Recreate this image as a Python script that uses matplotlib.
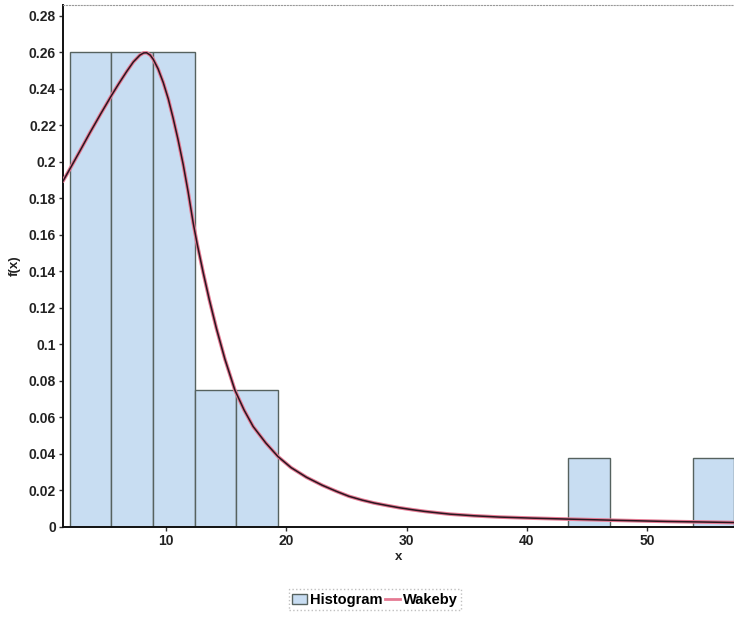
import numpy as np
import matplotlib.pyplot as plt

# histogram bins (x of first edge, width) and density heights
bin_start = 2.03
bin_width = 3.45
bin_heights = [0.26, 0.26, 0.26, 0.075, 0.075, 0, 0, 0, 0, 0, 0, 0,
               0.038, 0, 0, 0.038]

# fitted Wakeby pdf, read at sample points
curve_x = [1.45, 2.03, 2.9, 3.69, 4.6, 5.49, 6.1, 6.74, 7.3, 7.84, 8.15,
           8.4, 8.7, 8.95, 9.35, 9.78, 10.2, 10.6, 11.0, 11.44, 11.85,
           12.27, 12.6, 13.1, 13.6, 14.2, 14.9, 15.73, 16.5, 17.25, 18.3,
           19.32, 20.4, 21.68, 23.0, 24.2, 25.2, 26.3, 27.3, 28.4, 29.4,
           30.5, 31.5, 32.6, 33.6, 35.6, 37.7, 40.5, 43.3, 47.5, 51.6,
           54.5, 57.2]
curve_y = [0.1895, 0.1962, 0.2065, 0.2160, 0.2265, 0.2365, 0.2430, 0.2495,
           0.2548, 0.2585, 0.2597, 0.2598, 0.2585, 0.2562, 0.2510, 0.2435,
           0.2345, 0.2240, 0.2125, 0.1985, 0.1835, 0.1665, 0.155, 0.1393,
           0.1247, 0.1087, 0.0920, 0.0750, 0.064, 0.055, 0.046, 0.0385,
           0.0325, 0.0272, 0.0228, 0.0194, 0.0168, 0.0147, 0.0131, 0.0117,
           0.0105, 0.0094, 0.0085, 0.0077, 0.0070, 0.0061, 0.0054, 0.0048,
           0.0043, 0.0036, 0.0030, 0.0027, 0.0024]

xticks = [10, 20, 30, 40, 50]
yticks = [0, 0.02, 0.04, 0.06, 0.08, 0.1, 0.12, 0.14, 0.16, 0.18, 0.2,
          0.22, 0.24, 0.26, 0.28]
ytick_labels = ["0", "0.02", "0.04", "0.06", "0.08", "0.1", "0.12", "0.14",
                "0.16", "0.18", "0.2", "0.22", "0.24", "0.26", "0.28"]

plt.rcParams["font.family"] = ["Liberation Sans", "DejaVu Sans"]

fig = plt.figure(figsize=(7.34, 6.17), dpi=100)
ax = fig.add_axes([0.0858, 0.146, 0.9142, 0.846])

edges = bin_start + bin_width * np.arange(len(bin_heights))
bars = ax.bar(edges, bin_heights, width=bin_width, align="edge",
              color="#c8ddf2", edgecolor="#56625f", linewidth=1.0, zorder=2)

ax.plot(curve_x, curve_y, color="#e57a93", linewidth=2.6, zorder=3,
        solid_capstyle="round", solid_joinstyle="round")
ax.plot(curve_x, curve_y, color="#2a1620", linewidth=1.1, zorder=4,
        solid_joinstyle="round")
wakeby_handle, = ax.plot([], [], color="#e57a93", linewidth=2.0)

ax.set_xlim(1.45, 57.2)
ax.set_ylim(0, 0.286)
ax.set_xticks(xticks)
ax.set_yticks(yticks)
ax.set_yticklabels(ytick_labels)
ax.tick_params(axis="both", length=3, width=1, color="#333333",
               labelsize=10, labelcolor="#222222", pad=2)
for lab in ax.get_xticklabels() + ax.get_yticklabels():
    lab.set_fontweight("bold")

ax.spines["left"].set_color("#111111")
ax.spines["bottom"].set_color("#111111")
ax.spines["left"].set_linewidth(1.4)
ax.spines["bottom"].set_linewidth(1.4)
ax.spines["top"].set_color("#999999")
ax.spines["top"].set_linestyle(":")
ax.spines["right"].set_visible(False)

ax.set_xlabel("x", fontsize=9.5, fontweight="bold", color="#222222",
              labelpad=2)
ax.set_ylabel("f(x)", fontsize=9.5, fontweight="bold", color="#222222",
              labelpad=6)

leg = fig.legend([bars, wakeby_handle], ["Histogram", "Wakeby"],
                 loc="center", bbox_to_anchor=(0.511, 0.028), ncol=2,
                 frameon=True, fancybox=False,
                 handlelength=1.0, handletextpad=0.2, columnspacing=0.2,
                 borderpad=0.25, prop={"weight": "bold", "size": 10.5})
leg.get_frame().set_edgecolor("#b0b0b0")
leg.get_frame().set_linestyle(":")

fig.savefig("out.png", dpi=100)
